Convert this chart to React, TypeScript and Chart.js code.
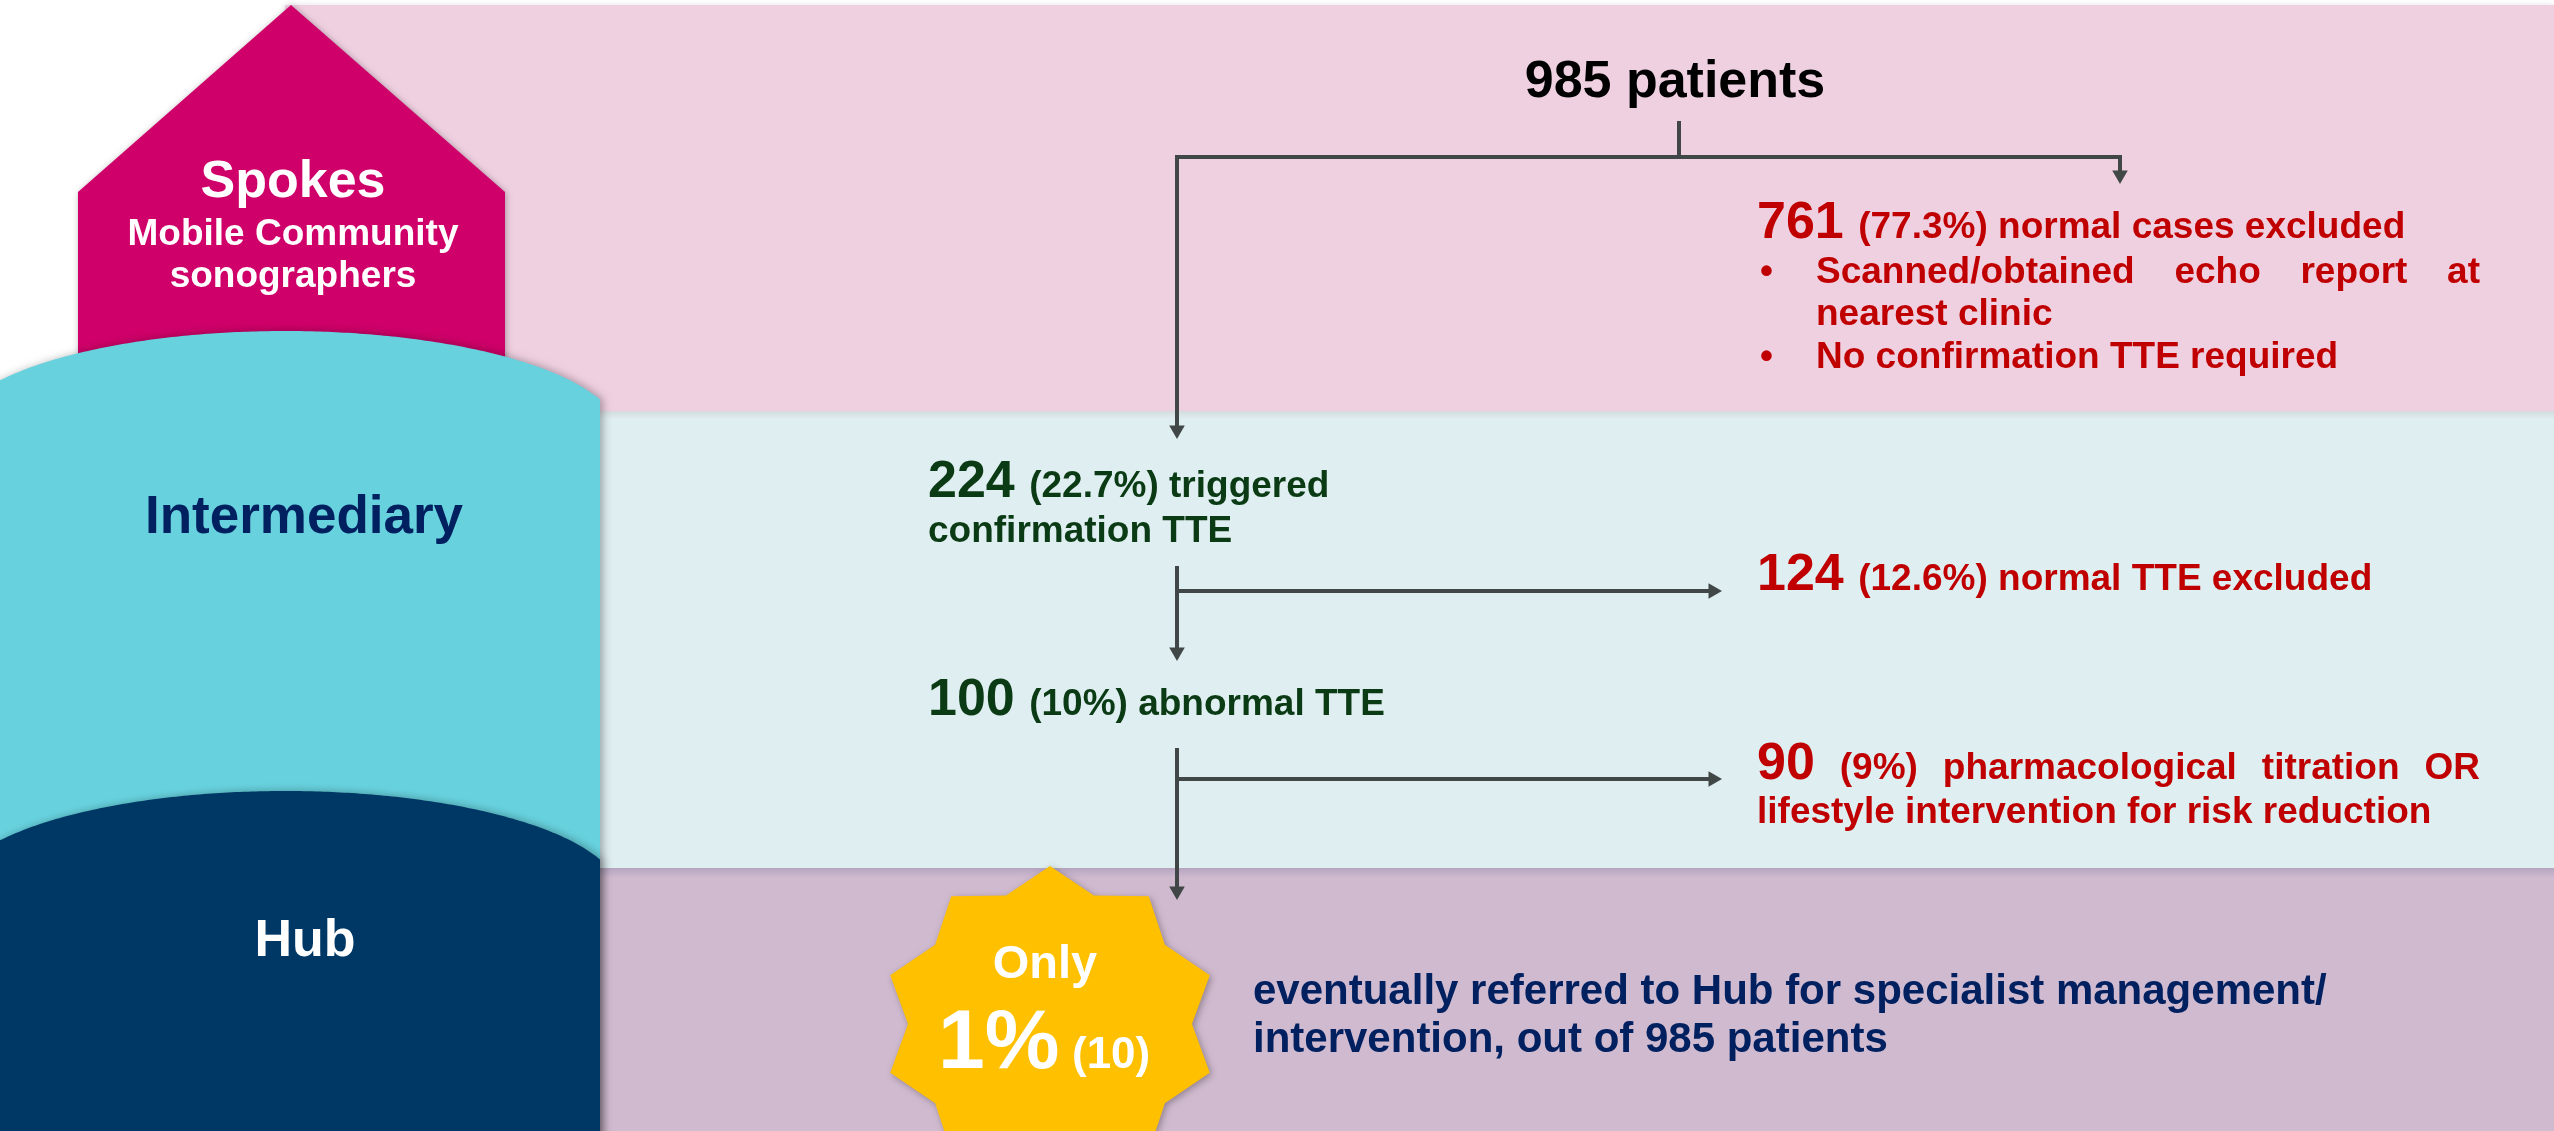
import React, { useEffect, useRef } from 'react';
import { Chart, registerables } from 'chart.js';

Chart.register(...registerables);

const W = 2554;
const H = 1131;

// ---------------- data ----------------
const tierLabels = ['Spokes', 'Intermediary', 'Hub'];
const spokesSubtitle = ['Mobile Community', 'sonographers'];
const totalPatients = 985;
const stepCounts = [761, 224, 124, 100, 90, 10];
const stepPercents = ['77.3%', '22.7%', '12.6%', '10%', '9%', '1%'];
const stepLines = [
  ['normal cases excluded'],
  ['triggered', 'confirmation TTE'],
  ['normal TTE excluded'],
  ['abnormal TTE'],
  ['pharmacological titration OR', 'lifestyle intervention for risk reduction'],
  ['eventually referred to Hub for specialist management/', 'intervention, out of 985 patients'],
];
const excludedBullets = [
  ['Scanned/obtained echo report at', 'nearest clinic'],
  ['No confirmation TTE required'],
];
const onlyLabel = 'Only';

// ---------------- styles / layout ----------------
const C = {
  pink: '#EFD0E1',
  lightBand: '#DFEEF1',
  purple: '#D0BACF',
  magenta: '#CF0069',
  cyan: '#67D2DE',
  navy: '#003865',
  red: '#C00000',
  green: '#0B3B15',
  navyText: '#002060',
  star: '#FFC000',
  line: '#414646',
  white: '#FFFFFF',
  black: '#000000',
};
const FONT = '"Liberation Sans", Arial, Helvetica, sans-serif';
const BIG = 52;
const SMALL = 37;

const bandsLayout = [
  { x0: 285, y0: 5, x1: W, y1: 411, color: C.pink },
  { x0: 600, y0: 411, x1: W, y1: 868, color: C.lightBand },
  { x0: 600, y0: 868, x1: W, y1: H, color: C.purple },
];
const house = { apexX: 291, apexY: 5, left: 78, right: 505, shoulderY: 192, bottom: 520 };
const arches = [
  { top: 331, color: C.cyan },
  { top: 791, color: C.navy },
];
const archShape = { cx: 285, rx: 335, ry: 104, x0: 0, x1: 600 };
const star = { cx: 1050, cy: 1024, orx: 168, ory: 158, irx: 142, iry: 135, points: 10 };

const connectors = [
  [[1679, 123], [1679, 157]],
  [[1177, 157], [2120, 157], [2120, 175]],
  [[1177, 157], [1177, 430]],
  [[1177, 568], [1177, 652]],
  [[1177, 591], [1712, 591]],
  [[1177, 750], [1177, 891]],
  [[1177, 779], [1712, 779]],
];
const arrowTips = [
  { x: 2120, y: 184, rot: 180 },
  { x: 1177, y: 439, rot: 180 },
  { x: 1177, y: 661, rot: 180 },
  { x: 1722, y: 591, rot: 90 },
  { x: 1177, y: 900, rot: 180 },
  { x: 1722, y: 779, rot: 90 },
];
const ARROW_R = 9;

// node text layout: index into step arrays
const nodeLayout = [
  { x: 1757, y: 238, color: C.red, lineGap: 44, justifyTo: 0 },
  { x: 928, y: 497, color: C.green, lineGap: 45, justifyTo: 0 },
  { x: 1757, y: 590, color: C.red, lineGap: 44, justifyTo: 0 },
  { x: 928, y: 715, color: C.green, lineGap: 44, justifyTo: 0 },
  { x: 1757, y: 779, color: C.red, lineGap: 44, justifyTo: 2480 },
];
const bulletLayout = { bulletX: 1760, textX: 1816, firstY: 283, lineGap: 42, bulletGap: 43, justifyTo: 2480 };

function font(size: number) {
  return `bold ${size}px ${FONT}`;
}

type Tok = { t: string; size: number };

function drawTokens(ctx: CanvasRenderingContext2D, toks: Tok[], x: number, y: number, color: string, justifyTo?: number) {
  ctx.fillStyle = color;
  ctx.textBaseline = 'alphabetic';
  ctx.textAlign = 'left';
  const widths = toks.map((tk) => {
    ctx.font = font(tk.size);
    return ctx.measureText(tk.t).width;
  });
  let gaps: number[] = toks.map((tk) => {
    ctx.font = font(tk.size);
    return ctx.measureText(' ').width;
  });
  if (justifyTo && toks.length > 1) {
    const total = widths.reduce((a, b) => a + b, 0);
    const g = (justifyTo - x - total) / (toks.length - 1);
    gaps = toks.map(() => g);
  }
  let cx = x;
  toks.forEach((tk, i) => {
    ctx.font = font(tk.size);
    ctx.fillText(tk.t, cx, y);
    cx += widths[i] + gaps[i];
  });
}

function words(s: string, size: number): Tok[] {
  return s.split(' ').filter(Boolean).map((t) => ({ t, size }));
}

const diagramPlugin = {
  id: 'diagram',
  beforeDatasetsDraw(chart: any) {
    const ctx: CanvasRenderingContext2D = chart.ctx;
    const X = (v: number) => chart.scales.x.getPixelForValue(v);
    const Y = (v: number) => chart.scales.y.getPixelForValue(v);
    ctx.save();
    ctx.fillStyle = '#FFFFFF';
    ctx.fillRect(0, 0, chart.width, chart.height);

    // bands
    bandsLayout.forEach((b, i) => {
      ctx.save();
      if (i === 0) {
        ctx.shadowColor = 'rgba(0,0,0,0.12)';
        ctx.shadowBlur = 6;
      }
      ctx.fillStyle = b.color;
      ctx.fillRect(X(b.x0), Y(b.y0), X(b.x1) - X(b.x0), Y(b.y1) - Y(b.y0));
      ctx.restore();
    });
    // shadow strip under light band
    const sy = Y(bandsLayout[2].y0);
    const g = ctx.createLinearGradient(0, sy, 0, sy + 10);
    g.addColorStop(0, 'rgba(150,140,175,0.45)');
    g.addColorStop(1, 'rgba(150,140,175,0)');
    ctx.fillStyle = g;
    ctx.fillRect(X(bandsLayout[2].x0), sy, X(W) - X(bandsLayout[2].x0), 10);
    const sy2 = Y(bandsLayout[1].y0);
    const g2 = ctx.createLinearGradient(0, sy2, 0, sy2 + 8);
    g2.addColorStop(0, 'rgba(200,200,205,0.5)');
    g2.addColorStop(1, 'rgba(200,200,205,0)');
    ctx.fillStyle = g2;
    ctx.fillRect(X(bandsLayout[1].x0), sy2, X(W) - X(bandsLayout[1].x0), 8);

    // house
    ctx.save();
    ctx.shadowColor = 'rgba(0,0,0,0.3)';
    ctx.shadowBlur = 6;
    ctx.shadowOffsetX = 1;
    ctx.shadowOffsetY = 1;
    ctx.fillStyle = C.magenta;
    ctx.beginPath();
    ctx.moveTo(X(house.apexX), Y(house.apexY));
    ctx.lineTo(X(house.right), Y(house.shoulderY));
    ctx.lineTo(X(house.right), Y(house.bottom));
    ctx.lineTo(X(house.left), Y(house.bottom));
    ctx.lineTo(X(house.left), Y(house.shoulderY));
    ctx.closePath();
    ctx.fill();
    ctx.restore();

    // arches
    arches.forEach((a) => {
      ctx.save();
      ctx.shadowColor = 'rgba(0,0,0,0.3)';
      ctx.shadowBlur = 8;
      ctx.shadowOffsetX = 3;
      ctx.fillStyle = a.color;
      ctx.beginPath();
      ctx.moveTo(X(archShape.x0) - 20, Y(H + 20));
      ctx.lineTo(X(archShape.x0) - 20, Y(a.top + 60));
      for (let xv = archShape.x0; xv <= archShape.x1; xv += 4) {
        const d = (xv - archShape.cx) / archShape.rx;
        const yv = a.top + archShape.ry - archShape.ry * Math.sqrt(Math.max(0, 1 - d * d));
        ctx.lineTo(X(xv), Y(yv));
      }
      ctx.lineTo(X(archShape.x1), Y(H + 20));
      ctx.closePath();
      ctx.fill();
      ctx.restore();
    });

    // star
    ctx.save();
    ctx.shadowColor = 'rgba(0,0,0,0.3)';
    ctx.shadowBlur = 7;
    ctx.shadowOffsetX = 2;
    ctx.shadowOffsetY = 2;
    ctx.fillStyle = C.star;
    ctx.beginPath();
    const n = star.points * 2;
    for (let i = 0; i < n; i++) {
      const ang = -Math.PI / 2 + (i * Math.PI) / star.points;
      const outer = i % 2 === 0;
      const xv = star.cx + Math.cos(ang) * (outer ? star.orx : star.irx);
      const yv = star.cy + Math.sin(ang) * (outer ? star.ory : star.iry);
      if (i === 0) ctx.moveTo(X(xv), Y(yv));
      else ctx.lineTo(X(xv), Y(yv));
    }
    ctx.closePath();
    ctx.fill();
    ctx.restore();
    ctx.restore();
  },
  afterDatasetsDraw(chart: any) {
    const ctx: CanvasRenderingContext2D = chart.ctx;
    const X = (v: number) => chart.scales.x.getPixelForValue(v);
    const Y = (v: number) => chart.scales.y.getPixelForValue(v);
    ctx.save();
    ctx.textBaseline = 'alphabetic';

    const center = (t: string, x: number, y: number, size: number, color: string) => {
      ctx.font = font(size);
      ctx.fillStyle = color;
      ctx.textAlign = 'center';
      ctx.fillText(t, X(x), Y(y));
    };

    // tiers
    center(tierLabels[0], 293, 197, BIG, C.white);
    center(spokesSubtitle[0], 293, 245, SMALL, C.white);
    center(spokesSubtitle[1], 293, 287, SMALL, C.white);
    center(tierLabels[1], 304, 533, 53, C.navyText);
    center(tierLabels[2], 305, 956, BIG, C.white);

    // header
    center(`${totalPatients} patients`, 1675, 97, BIG, C.black);

    // steps
    nodeLayout.forEach((nl, i) => {
      const lines = stepLines[i];
      const first: Tok[] = [
        { t: String(stepCounts[i]), size: BIG },
        { t: `(${stepPercents[i]})`, size: SMALL },
        ...words(lines[0], SMALL),
      ];
      drawTokens(ctx, first, X(nl.x), Y(nl.y), nl.color, nl.justifyTo ? X(nl.justifyTo) : undefined);
      for (let k = 1; k < lines.length; k++) {
        drawTokens(ctx, words(lines[k], SMALL), X(nl.x), Y(nl.y + nl.lineGap * k), nl.color);
      }
    });

    // bullets
    let by = bulletLayout.firstY;
    excludedBullets.forEach((b, bi) => {
      ctx.font = font(SMALL);
      ctx.fillStyle = C.red;
      ctx.textAlign = 'left';
      ctx.fillText('\u2022', X(bulletLayout.bulletX), Y(by));
      b.forEach((line, li) => {
        const justify = li < b.length - 1 ? X(bulletLayout.justifyTo) : undefined;
        drawTokens(ctx, words(line, SMALL), X(bulletLayout.textX), Y(by), C.red, justify);
        by += li < b.length - 1 ? bulletLayout.lineGap : 0;
      });
      if (bi < excludedBullets.length - 1) by += bulletLayout.bulletGap;
    });

    // star text
    center(onlyLabel, 1045, 978, 47, C.white);
    ctx.textAlign = 'left';
    ctx.fillStyle = C.white;
    ctx.font = font(84);
    ctx.fillText(stepPercents[5], X(938), Y(1068));
    ctx.font = font(44);
    ctx.fillText(`(${stepCounts[5]})`, X(1072), Y(1068));

    // hub text
    const hub = stepLines[5];
    drawTokens(ctx, words(hub[0], 42), X(1253), Y(1004), C.navyText);
    drawTokens(ctx, words(hub[1], 42), X(1253), Y(1052), C.navyText);
    ctx.restore();
  },
};

export default function App() {
  const ref = useRef<HTMLCanvasElement>(null);
  useEffect(() => {
    document.body.style.margin = '0';
    const lineSets = connectors.map((seg) => ({
      type: 'scatter' as const,
      data: seg.map(([x, y]) => ({ x, y })),
      showLine: true,
      borderColor: C.line,
      borderWidth: 4,
      pointRadius: 0,
      fill: false,
      tension: 0,
      clip: false as any,
      borderCapStyle: 'square' as const,
    }));
    const arrowSet = {
      type: 'scatter' as const,
      data: arrowTips.map((a) => {
        const r = (a.rot * Math.PI) / 180;
        return { x: a.x - Math.sin(r) * ARROW_R, y: a.y + Math.cos(r) * ARROW_R };
      }),
      showLine: false,
      pointStyle: 'triangle' as const,
      pointRadius: ARROW_R,
      pointRotation: arrowTips.map((a) => a.rot),
      pointBackgroundColor: C.line,
      pointBorderWidth: 0,
      pointBorderColor: C.line,
      clip: false as any,
    };
    const chart = new Chart(ref.current as HTMLCanvasElement, {
      type: 'scatter',
      data: { datasets: [...lineSets, arrowSet] as any },
      options: {
        responsive: false,
        animation: false,
        devicePixelRatio: 1,
        events: [],
        layout: { padding: 0, autoPadding: false },
        plugins: { legend: { display: false }, tooltip: { enabled: false } },
        scales: {
          x: { type: 'linear', min: 0, max: W, display: false },
          y: { type: 'linear', min: 0, max: H, reverse: true, display: false },
        },
      },
      plugins: [diagramPlugin as any],
    });
    return () => chart.destroy();
  }, []);
  return (
    <div style={{ position: 'absolute', left: 0, top: 0, width: W, height: H }}>
      <canvas ref={ref} width={W} height={H} style={{ width: W, height: H, display: 'block' }} />
    </div>
  );
}
